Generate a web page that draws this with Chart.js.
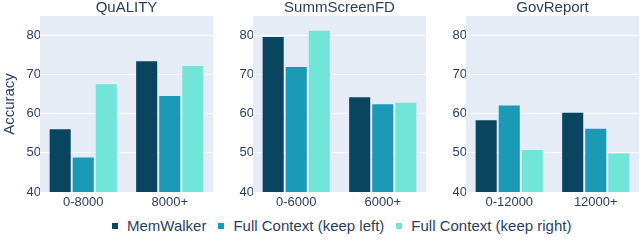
<!DOCTYPE html>
<html>
<head>
<meta charset="utf-8">
<script src="https://cdn.jsdelivr.net/npm/chart.js@4"></script>
<style>
  body { margin: 0; background: #fff; width: 640px; height: 250px; overflow: hidden; position: relative; font-family: 'Liberation Sans', Arial, sans-serif; }
  .panel { position: absolute; top: 0; height: 214px; }
  #legend { position: absolute; left: 112px; top: 217px; display: flex; align-items: center; font-size: 15px; color: #2a3f5f; white-space: nowrap; }
  #legend span.box { display: inline-block; width: 6px; height: 6px; margin-right: 9px; }
  #legend span.item { display: flex; align-items: center; margin-right: 12px; }
</style>
</head>
<body>
<div class="panel" style="left:0;width:215px"><canvas id="c1" width="215" height="214"></canvas></div>
<div class="panel" style="left:215px;width:213px"><canvas id="c2" width="213" height="214"></canvas></div>
<div class="panel" style="left:428px;width:212px"><canvas id="c3" width="212" height="214"></canvas></div>
<div id="legend"></div>
<script>
// data
const seriesNames = ['MemWalker', 'Full Context (keep left)', 'Full Context (keep right)'];
const colors = ['#0a4560', '#1a9ab5', '#72e5d9'];

const qualityCats = ['0-8000', '8000+'];
const qualityMem = [56.3, 73.7];
const qualityLeft = [49.1, 64.8];
const qualityRight = [67.8, 72.5];

const summCats = ['0-6000', '6000+'];
const summMem = [79.9, 64.5];
const summLeft = [72.2, 62.7];
const summRight = [81.5, 63.1];

const govCats = ['0-12000', '12000+'];
const govMem = [58.6, 60.5];
const govLeft = [62.4, 56.4];
const govRight = [51.0, 50.1];

const yTicks = [40, 50, 60, 70, 80];

const textColor = '#2a3f5f';
const fontFam = "'Liberation Sans', Arial, sans-serif";

// plot background like the original, and centre the title over the plot area
const plotBg = {
    id: 'plotBg',
    afterLayout(chart) {
        if (chart.titleBlock) {
            chart.titleBlock.left = chart.chartArea.left;
            chart.titleBlock.right = chart.chartArea.right;
            chart.titleBlock.width = chart.chartArea.right - chart.chartArea.left;
        }
    },
    beforeDraw(chart) {
        const a = chart.chartArea;
        const ctx = chart.ctx;
        ctx.save();
        ctx.fillStyle = '#e5ecf6';
        ctx.fillRect(a.left, a.top, a.right - a.left, a.bottom - a.top);
        ctx.restore();
    }
};

function makePanel(id, title, cats, vals, yWidth, showYTitle, padRight) {
    new Chart(document.getElementById(id), {
        type: 'bar',
        data: {
            labels: cats,
            datasets: vals.map((v, i) => ({
                label: seriesNames[i],
                data: v,
                backgroundColor: colors[i],
                borderColor: 'rgba(229,236,246,0.7)',
                borderWidth: 1,
                categoryPercentage: 0.8,
                barPercentage: 1.0
            }))
        },
        options: {
            responsive: false,
            animation: false,
            layout: { padding: { left: 0, right: padRight, top: 0, bottom: 0 } },
            plugins: {
                legend: { display: false },
                tooltip: { enabled: false },
                title: {
                    display: true,
                    text: title,
                    color: textColor,
                    font: { family: fontFam, size: 15, weight: 'normal', lineHeight: 1.0 },
                    padding: { top: 0, bottom: 1 }
                }
            },
            scales: {
                x: {
                    grid: { display: false },
                    border: { display: false },
                    ticks: { color: textColor, font: { family: fontFam, size: 13 }, padding: -5 },
                    afterFit(scale) { scale.height = 22; }
                },
                y: {
                    min: 40,
                    max: 85,
                    grid: { color: '#ffffff', lineWidth: 1, drawTicks: false },
                    border: { display: false },
                    ticks: {
                        stepSize: 10,
                        includeBounds: false,
                        color: textColor,
                        font: { family: fontFam, size: 13 },
                        padding: -1
                    },
                    afterBuildTicks(scale) { scale.ticks = yTicks.map(v => ({ value: v })); },
                    title: {
                        display: showYTitle,
                        text: 'Accuracy',
                        color: textColor,
                        font: { family: fontFam, size: 15 },
                        padding: { top: 1, bottom: 0 }
                    },
                    afterFit(scale) { scale.width = yWidth; }
                }
            }
        },
        plugins: [plotBg]
    });
}

makePanel('c1', 'QuALITY', qualityCats, [qualityMem, qualityLeft, qualityRight], 40, true, 2);
makePanel('c2', 'SummScreenFD', summCats, [summMem, summLeft, summRight], 38, false, 2);
makePanel('c3', 'GovReport', govCats, [govMem, govLeft, govRight], 38, false, 1);

// legend
const legend = document.getElementById('legend');
seriesNames.forEach((name, i) => {
    const item = document.createElement('span');
    item.className = 'item';
    item.innerHTML = `<span class="box" style="background:${colors[i]}"></span>${name}`;
    legend.appendChild(item);
});
</script>
</body>
</html>
